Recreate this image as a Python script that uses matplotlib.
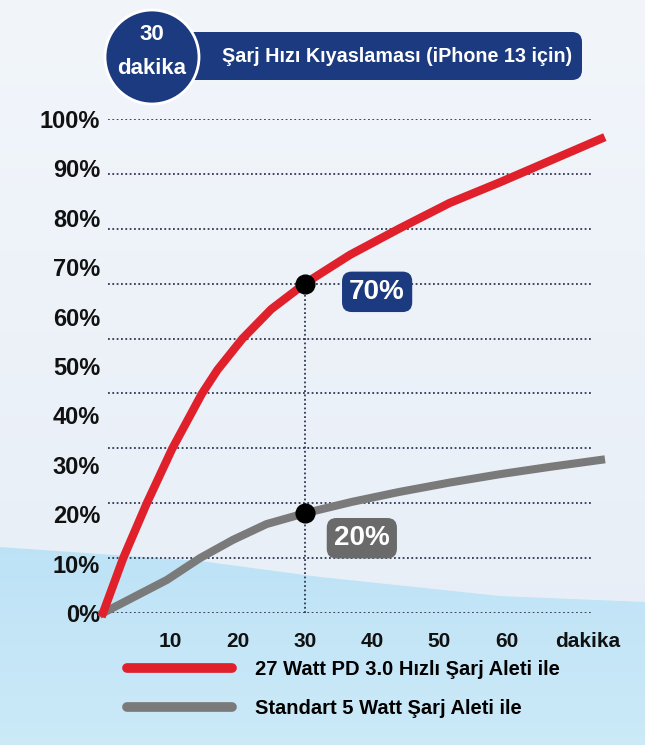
import matplotlib.pyplot as plt
import numpy as np
from matplotlib.colors import LinearSegmentedColormap
from matplotlib.lines import Line2D
from matplotlib.patches import Circle, FancyBboxPatch, Polygon, Rectangle

plt.rcParams["font.family"] = ["Liberation Sans", "DejaVu Sans"]

FIG_W, FIG_H, DPI = 645, 751, 100

# values (minutes -> battery %)
fast_min = [0, 3, 6.5, 10.3, 14.7, 17, 20.7, 25, 30, 36.7, 44, 51.5, 59, 66.5, 74]
fast_pct = [0, 11.1, 22.2, 33.3, 44.4, 49.2, 55.5, 61.5, 66.7, 72.5, 77.8, 83, 87.2, 91.6, 96]
std_min = [0, 9.5, 14.4, 19.3, 24.3, 30, 37, 44, 51.5, 59, 66.5, 74]
std_pct = [0, 6.7, 11.1, 14.8, 18.0, 20.2, 22.5, 24.5, 26.4, 28.1, 29.6, 31]

series_labels = ["27 Watt PD 3.0 Hızlı Şarj Aleti ile", "Standart 5 Watt Şarj Aleti ile"]
callout_labels = ["70%", "20%"]
highlight_min = 30

x_ticks = [10, 20, 30, 40, 50, 60, 72]
x_tick_labels = ["10", "20", "30", "40", "50", "60", "dakika"]
y_ticks = list(range(0, 101, 10))
y_tick_labels = [f"{v}%" for v in y_ticks]
grid_levels = [k * 100 / 9 for k in range(10)]

title = "Şarj Hızı Kıyaslaması (iPhone 13 için)"
badge_top, badge_bottom = "30", "dakika"

RED = "#e0212b"
GREY = "#7a7a7a"
NAVY = "#1c3a80"
BOX_GREY = "#6a6a6a"
DOT = "#2e3850"


def px(x, y):
    """figure pixel (from top-left) -> figure fraction"""
    return x / FIG_W, 1 - y / FIG_H


fig = plt.figure(figsize=(FIG_W / DPI, FIG_H / DPI), dpi=DPI)

# ---- background layer in pixel coordinates
bg = fig.add_axes([0, 0, 1, 1])
bg.set_xlim(0, FIG_W)
bg.set_ylim(FIG_H, 0)
bg.axis("off")
ramp = np.linspace(0, 1, 256).reshape(-1, 1)
bg.imshow(ramp, cmap=LinearSegmentedColormap.from_list("sky", ["#f2f6fb", "#e6edf6"]),
          extent=(0, FIG_W, FIG_H, 0), aspect="auto", zorder=0)
water_edge = [(0, 547), (200, 561), (320, 577), (500, 596), (645, 602), (645, 751), (0, 751)]
water = Polygon(water_edge, closed=True, fc="none", ec="none")
bg.add_patch(water)
img = bg.imshow(ramp, cmap=LinearSegmentedColormap.from_list("water", ["#bde2f6", "#cceaf8"]),
                extent=(0, FIG_W, FIG_H, 540), aspect="auto", zorder=1)
img.set_clip_path(water)
bg.add_patch(Rectangle((0, 745), FIG_W, 6, fc="white", ec="none", zorder=2))

# title banner
bg.add_patch(FancyBboxPatch((150, 32), 432, 48, boxstyle="round,pad=0,rounding_size=10",
                            fc=NAVY, ec="none", zorder=3))
bg.add_patch(Circle((152, 57), 47, fc=NAVY, ec="white", lw=2, zorder=4))
bg.text(152, 35, badge_top, color="white", fontsize=16, fontweight="bold",
        ha="center", va="center", zorder=5)
bg.text(152, 69, badge_bottom, color="white", fontsize=16, fontweight="bold",
        ha="center", va="center", zorder=5)
bg.text(397, 57, title, color="white", fontsize=14.2, fontweight="bold",
        ha="center", va="center", zorder=5)

# ---- chart axes: 0 min at x=103px, 6.73 px/min; 0% at y=613px, 100% at y=119px
left, bottom = px(103, 613)
ax = fig.add_axes([left, bottom, 80 * 6.73 / FIG_W, 494 / FIG_H])
ax.set_facecolor("none")
ax.set_xlim(0, 80)
ax.set_ylim(0, 100)
for s in ax.spines.values():
    s.set_visible(False)

ax.hlines(grid_levels, 0.7, 72.7, colors=DOT, lw=1.3, linestyles=(0, (1, 1.4)), zorder=1)

i_fast = fast_min.index(highlight_min)
i_std = std_min.index(highlight_min)
ax.vlines(highlight_min, 0, fast_pct[i_fast], colors=DOT, lw=1.3,
          linestyles=(0, (1, 1.4)), zorder=1)

ax.plot(std_min, std_pct, color=GREY, lw=5.8, solid_joinstyle="round", clip_on=False, zorder=3)
ax.plot(fast_min, fast_pct, color=RED, lw=6, solid_joinstyle="round", clip_on=False, zorder=4)
ax.plot([highlight_min] * 2, [fast_pct[i_fast], std_pct[i_std]], "o", color="black",
        ms=13.5, clip_on=False, zorder=5)

for val, lab, off, fc in [(fast_pct[i_fast], callout_labels[0], (52, -6), NAVY),
                          (std_pct[i_std], callout_labels[1], (41, -18), BOX_GREY)]:
    ax.annotate(lab, xy=(highlight_min, val), xytext=off, textcoords="offset points",
                ha="center", va="center", color="white", fontsize=20, fontweight="bold",
                bbox=dict(boxstyle="round,pad=0.26,rounding_size=0.35", fc=fc, ec="none"),
                zorder=6)

ax.set_xticks(x_ticks, x_tick_labels)
ax.set_yticks(y_ticks, y_tick_labels)
ax.tick_params(axis="both", length=0)
ax.tick_params(axis="x", labelsize=15, pad=14)
ax.tick_params(axis="y", labelsize=17, pad=2)
for t in ax.get_xticklabels() + ax.get_yticklabels():
    t.set_fontweight("bold")
    t.set_color("#111111")

handles = [Line2D([], [], color=RED, lw=7, solid_capstyle="round"),
           Line2D([], [], color=GREY, lw=7, solid_capstyle="round")]
fig.legend(handles, series_labels, loc="upper left", bbox_to_anchor=px(127, 660),
           frameon=False, borderpad=0, borderaxespad=0, handlelength=5.2,
           handletextpad=1.15, labelspacing=0.98,
           prop={"size": 14.5, "weight": "bold"})

fig.savefig("out.png", dpi=DPI)
